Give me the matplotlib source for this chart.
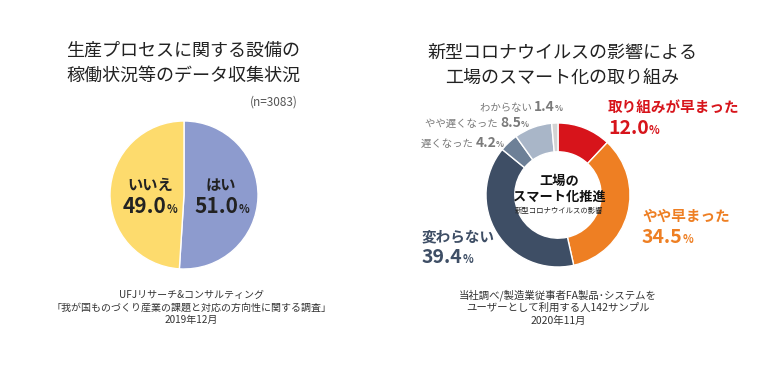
import matplotlib
matplotlib.use("Agg")
import matplotlib.pyplot as plt

plt.rcParams['font.family'] = ['Noto Sans CJK JP', 'DejaVu Sans']

W, H = 766, 370

# left pie: データ収集状況
left_labels = ['はい', 'いいえ']
left_values = [51.0, 49.0]
left_colors = ['#8D9BCE', '#FDDB6D']

# right donut: コロナの影響
right_labels = ['取り組みが早まった', 'やや早まった', '変わらない', '遅くなった', 'やや遅くなった', 'わからない']
right_values = [12.0, 34.5, 39.4, 4.2, 8.5, 1.4]
right_colors = ['#D7141B', '#EE7F23', '#3E4E65', '#6D8097', '#A9B6C8', '#D3D3D3']

fig = plt.figure(figsize=(W / 100, H / 100), dpi=100)
fig.patch.set_facecolor('white')


def fx(x):
    return x / W


def fy(y):
    return 1 - y / H


def pie_axes(cx, cy, r):
    ax = fig.add_axes([fx(cx - r), fy(cy + r), 2 * r / W, 2 * r / H])
    ax.axis('off')
    return ax


def fix_limits(ax):
    # pie() pads the limits to 1.25, put them back to the radius
    ax.set_xlim(-1, 1)
    ax.set_ylim(-1, 1)


renderer = fig.canvas.get_renderer()


def rich(x, y, parts, ha='center'):
    # parts: (text, size, weight, color) drawn side by side on one baseline
    texts = []
    for s, size, weight, color in parts:
        t = fig.text(0, fy(y), s, fontsize=size, fontweight=weight, color=color,
                     va='baseline', ha='left')
        texts.append(t)
    widths = [t.get_window_extent(renderer).width for t in texts]
    total = sum(widths)
    start = x - total / 2 if ha == 'center' else (x if ha == 'left' else x - total)
    for t, w in zip(texts, widths):
        t.set_x(fx(start))
        start += w


# ---- left chart ----
fig.text(fx(183), fy(51), '生産プロセスに関する設備の', ha='center', va='center', fontsize=13, color='#222222')
fig.text(fx(183), fy(76), '稼働状況等のデータ収集状況', ha='center', va='center', fontsize=13, color='#222222')
fig.text(fx(298), fy(102), '(n=3083)', ha='right', va='center', fontsize=8.5, color='#555555')

ax1 = pie_axes(184, 195, 74)
ax1.pie(left_values, colors=left_colors, startangle=90, counterclock=False, radius=1,
        wedgeprops=dict(edgecolor='white', linewidth=1))
fix_limits(ax1)

rich(150, 190, [(left_labels[1], 11, 'bold', '#222222')])
rich(150, 213, [(f'{left_values[1]:.1f}', 15, 'bold', '#222222'), ('%', 8, 'bold', '#222222')])
rich(221, 190, [(left_labels[0], 11, 'bold', '#222222')])
rich(222, 213, [(f'{left_values[0]:.1f}', 15, 'bold', '#222222'), ('%', 8, 'bold', '#222222')])

for i, line in enumerate(['UFJリサーチ&コンサルティング',
                          '「我が国ものづくり産業の課題と対応の方向性に関する調査」',
                          '2019年12月']):
    fig.text(fx(191), fy(295 + i * 12.5), line, ha='center', va='center', fontsize=7.2, color='#333333')

# ---- right chart ----
fig.text(fx(562), fy(53), '新型コロナウイルスの影響による', ha='center', va='center', fontsize=13, color='#222222')
fig.text(fx(562), fy(78), '工場のスマート化の取り組み', ha='center', va='center', fontsize=13, color='#222222')

ax2 = pie_axes(558, 195, 72)
ax2.pie(right_values, colors=right_colors, startangle=90, counterclock=False, radius=1,
        wedgeprops=dict(width=0.4, edgecolor='white', linewidth=1))
fix_limits(ax2)

fig.text(fx(559), fy(181), '工場の', ha='center', va='center', fontsize=9.5, fontweight='bold', color='#111111')
fig.text(fx(559), fy(197), 'スマート化推進', ha='center', va='center', fontsize=9.5, fontweight='bold', color='#111111')
fig.text(fx(559), fy(211), '新型コロナウイルスの影響', ha='center', va='center', fontsize=5.3, color='#222222')

grey = '#7A7A7A'
rich(480, 111, [(right_labels[5] + ' ', 7.5, 'normal', grey), (f'{right_values[5]:.1f}', 10, 'bold', grey),
                ('%', 6, 'bold', grey)], ha='left')
rich(425, 127, [(right_labels[4] + ' ', 7.5, 'normal', grey), (f'{right_values[4]:.1f}', 10, 'bold', grey),
                ('%', 6, 'bold', grey)], ha='left')
rich(421, 147, [(right_labels[3] + ' ', 7.5, 'normal', grey), (f'{right_values[3]:.1f}', 10, 'bold', grey),
                ('%', 6, 'bold', grey)], ha='left')

rich(608, 112, [(right_labels[0], 10.5, 'bold', right_colors[0])], ha='left')
rich(608, 134, [(f'{right_values[0]:.1f}', 14, 'bold', right_colors[0]), ('%', 8, 'bold', right_colors[0])], ha='left')
rich(642, 221, [(right_labels[1], 10.5, 'bold', right_colors[1])], ha='left')
rich(642, 243, [(f'{right_values[1]:.1f}', 14, 'bold', right_colors[1]), ('%', 8, 'bold', right_colors[1])], ha='left')
rich(422, 241, [(right_labels[2], 10.5, 'bold', right_colors[2])], ha='left')
rich(422, 263, [(f'{right_values[2]:.1f}', 14, 'bold', right_colors[2]), ('%', 8, 'bold', right_colors[2])], ha='left')

for i, line in enumerate(['当社調べ/製造業従事者FA製品･システムを',
                          'ユーザーとして利用する人142サンプル',
                          '2020年11月']):
    fig.text(fx(558), fy(295 + i * 13), line, ha='center', va='center', fontsize=7.5, color='#333333')

fig.savefig('out.png', dpi=100, facecolor='white')
